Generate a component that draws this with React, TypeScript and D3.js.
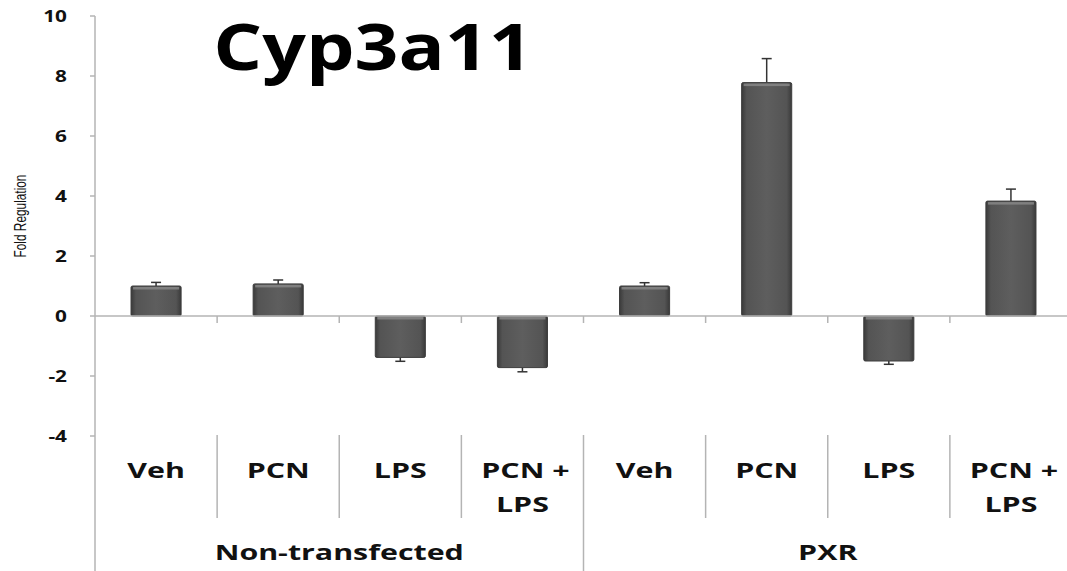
import React from "react";
import * as d3 from "d3";

const categories = ["Veh", "PCN", "LPS", "PCN + LPS", "Veh", "PCN", "LPS", "PCN + LPS"];
const groups = ["Non-transfected", "PXR"];
const values = [1.0, 1.07, -1.38, -1.72, 1.0, 7.78, -1.5, 3.83];
const errors = [0.12, 0.13, 0.13, 0.14, 0.11, 0.8, 0.11, 0.4];
const yTicks = [-4, -2, 0, 2, 4, 6, 8, 10];

const W = 1067;
const H = 571;

export default function App() {
  const x = d3
    .scaleBand<number>()
    .domain(d3.range(categories.length))
    .range([95, 1072])
    .paddingInner(0.59)
    .paddingOuter(0.295);
  const y = d3.scaleLinear().domain([-4, 10]).range([436, 16]);
  const step = x.step();
  const x0 = 95;
  const bound = (i: number) => x0 + i * step;
  const axisColor = "#b4b4b4";
  const font = "'Open Sans', sans-serif";

  const labelLines = (s: string) => (s.includes("+") ? ["PCN +", "LPS"] : [s]);

  return (
    <svg
      width={W}
      height={H}
      style={{ position: "absolute", left: 0, top: 0, background: "#fff" }}
    >
      <defs>
        <linearGradient id="barGrad" x1="0" x2="1" y1="0" y2="0">
          <stop offset="0%" stopColor="#3a3a3a" />
          <stop offset="10%" stopColor="#545454" />
          <stop offset="50%" stopColor="#5e5e5e" />
          <stop offset="90%" stopColor="#545454" />
          <stop offset="100%" stopColor="#3a3a3a" />
        </linearGradient>
      </defs>

      {/* y axis */}
      <line x1={95} x2={95} y1={y(10)} y2={H} stroke={axisColor} strokeWidth={1.5} />
      {yTicks.map((t) => (
        <g key={t}>
          <line x1={90} x2={95} y1={y(t)} y2={y(t)} stroke={axisColor} strokeWidth={1.5} />
          <text
            transform={`translate(67,${y(t) + 6}) scale(1.3,1)`}
            textAnchor="end"
            fontFamily={font}
            fontWeight={700}
            fontSize={16}
            fill="#111"
          >
            {t}
          </text>
        </g>
      ))}

      {/* y label */}
      <text
        transform={`translate(26,216) rotate(-90) scale(0.74,1)`}
        textAnchor="middle"
        fontFamily="'Liberation Sans', sans-serif"
        fontSize={16}
        fill="#111"
      >
        Fold Regulation
      </text>

      {/* bars */}
      {values.map((v, i) => {
        const bx = x(i)!;
        const bw = x.bandwidth();
        const top = Math.min(y(v), y(0));
        const h = Math.abs(y(v) - y(0));
        const errEnd = v >= 0 ? y(v + errors[i]) : y(v - errors[i]);
        const cx = bx + bw / 2;
        return (
          <g key={i}>
            <line x1={cx} x2={cx} y1={y(v)} y2={errEnd} stroke="#333" strokeWidth={1.5} />
            <line x1={cx - 5} x2={cx + 5} y1={errEnd} y2={errEnd} stroke="#333" strokeWidth={1.5} />
            <rect x={bx} y={top} width={bw} height={h} fill="url(#barGrad)" stroke="#3c3c3c" strokeWidth={1} rx={1.5} />
            <rect x={bx + 2} y={top + 1} width={bw - 4} height={2.5} fill="#8a8a8a" opacity={0.8} />
          </g>
        );
      })}

      {/* zero line */}
      <line x1={95} x2={W} y1={y(0)} y2={y(0)} stroke={axisColor} strokeWidth={1.5} />
      {d3.range(1, categories.length + 1).map((i) => (
        <line key={i} x1={bound(i)} x2={bound(i)} y1={y(0)} y2={y(0) + 7} stroke={axisColor} strokeWidth={1.5} />
      ))}

      {/* category dividers */}
      {d3.range(1, categories.length).map((i) => (
        <line
          key={i}
          x1={bound(i)}
          x2={bound(i)}
          y1={435}
          y2={i === 4 ? H : 518}
          stroke={axisColor}
          strokeWidth={1.5}
        />
      ))}

      {/* category labels */}
      {categories.map((c, i) => {
        const cx = x(i)! + x.bandwidth() / 2;
        return labelLines(c).map((ln, k) => (
          <text
            key={`${i}-${k}`}
            transform={`translate(${cx + (k === 0 && c.includes("+") ? 3 : 0)},${478 + k * 34}) scale(1.38,1)`}
            textAnchor="middle"
            fontFamily={font}
            fontWeight={700}
            fontSize={22}
            fill="#111"
          >
            {ln}
          </text>
        ));
      })}

      {/* group labels */}
      {groups.map((g, gi) => {
        const cx = bound(gi * 4 + 2);
        return (
          <text
            key={g}
            transform={`translate(${cx},560) scale(1.38,1)`}
            textAnchor="middle"
            fontFamily={font}
            fontWeight={700}
            fontSize={22}
            fill="#111"
          >
            {g}
          </text>
        );
      })}

      {/* title */}
      <text
        transform="translate(373,70) scale(1.2,1)"
        textAnchor="middle"
        fontFamily={font}
        fontWeight={700}
        fontSize={64}
        fill="#000"
      >
        Cyp3a11
      </text>
    </svg>
  );
}
